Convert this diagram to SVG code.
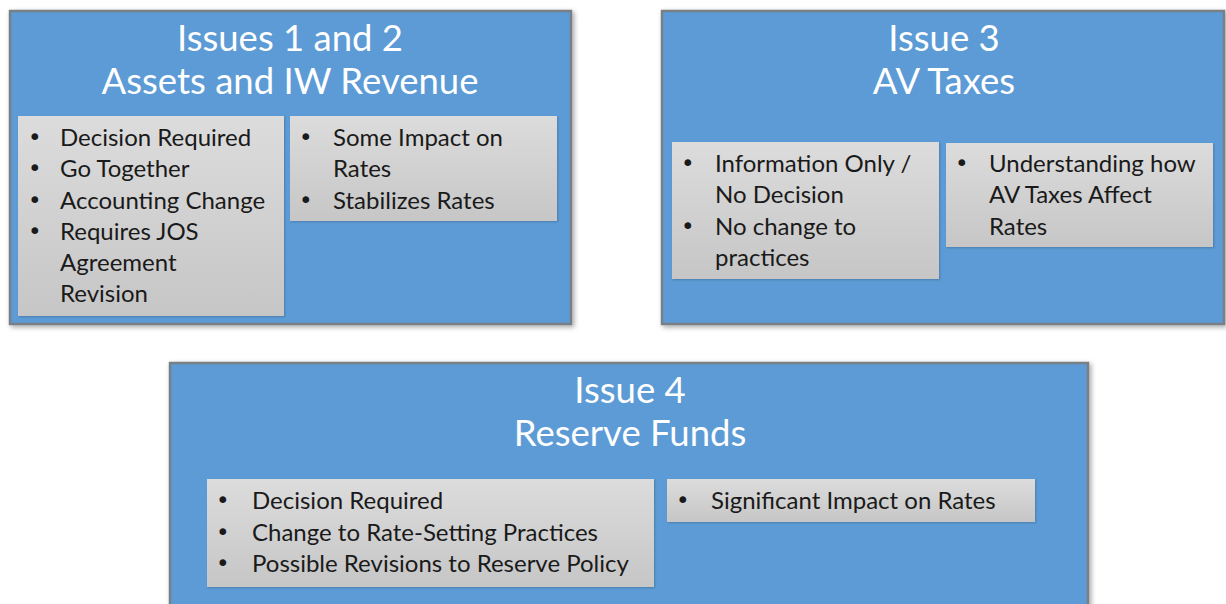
<svg xmlns="http://www.w3.org/2000/svg" width="1226" height="604" viewBox="0 0 1226 604">
<style>
.outer{fill:#5b9bd5;stroke:#7a7f86;stroke-width:2.5}
.inner{fill:url(#g)}
.title{font-family:Lato,"Open Sans",sans-serif;font-size:36.5px;fill:#ffffff;text-anchor:middle}
.b{font-family:Lato,"Open Sans",sans-serif;font-size:24px;fill:#1a1a1a}
.d{font-family:"DejaVu Sans",sans-serif;font-size:23px;fill:#1a1a1a}
</style>
<defs>
<linearGradient id="g" x1="0" y1="0" x2="0" y2="1">
<stop offset="0" stop-color="#dcdcdc"/>
<stop offset="1" stop-color="#c6c6c6"/>
</linearGradient>
<filter id="sh" x="-5%" y="-5%" width="110%" height="110%">
<feDropShadow dx="2" dy="2" stdDeviation="2.5" flood-color="#000" flood-opacity="0.35"/>
</filter>
<filter id="sh2" x="-5%" y="-5%" width="110%" height="110%">
<feDropShadow dx="1" dy="1" stdDeviation="1" flood-color="#000" flood-opacity="0.2"/>
</filter>
</defs>
<g id="issue12">
<rect class="outer" x="10" y="11" width="561" height="313" filter="url(#sh)"/>
<text class="title" x="290" y="51">Issues 1 and 2</text>
<text class="title" x="290" y="94">Assets and IW Revenue</text>
<rect class="inner" x="18" y="116" width="266" height="200" filter="url(#sh2)"/>
<g class="d">
<text x="28" y="145">•</text><text x="28" y="176">•</text><text x="28" y="208">•</text><text x="28" y="239">•</text>
</g>
<g class="b">
<text x="60" y="146">Decision Required</text>
<text x="60" y="177">Go Together</text>
<text x="60" y="209">Accounting Change</text>
<text x="60" y="240">Requires JOS</text>
<text x="60" y="271">Agreement</text>
<text x="60" y="302">Revision</text>
</g>
<rect class="inner" x="290" y="116" width="267" height="105" filter="url(#sh2)"/>
<g class="d">
<text x="299" y="145">•</text><text x="299" y="208">•</text>
</g>
<g class="b">
<text x="333" y="146">Some Impact on</text>
<text x="333" y="177">Rates</text>
<text x="333" y="209">Stabilizes Rates</text>
</g>
</g>
<g id="issue3">
<rect class="outer" x="662" y="11" width="562" height="313" filter="url(#sh)"/>
<text class="title" x="944" y="51">Issue 3</text>
<text class="title" x="944" y="94">AV Taxes</text>
<rect class="inner" x="672" y="142" width="267" height="137" filter="url(#sh2)"/>
<g class="d">
<text x="681" y="171">•</text><text x="681" y="234">•</text>
</g>
<g class="b">
<text x="715" y="172">Information Only /</text>
<text x="715" y="203">No Decision</text>
<text x="715" y="235">No change to</text>
<text x="715" y="266">practices</text>
</g>
<rect class="inner" x="946" y="143" width="267" height="104" filter="url(#sh2)"/>
<g class="d">
<text x="955" y="171">•</text>
</g>
<g class="b">
<text x="989" y="172">Understanding how</text>
<text x="989" y="203">AV Taxes Affect</text>
<text x="989" y="235">Rates</text>
</g>
</g>
<g id="issue4">
<rect class="outer" x="170" y="363" width="918" height="260" filter="url(#sh)"/>
<text class="title" x="630" y="403">Issue 4</text>
<text class="title" x="630" y="446">Reserve Funds</text>
<rect class="inner" x="207" y="479" width="447" height="108" filter="url(#sh2)"/>
<g class="d">
<text x="216" y="508">•</text><text x="216" y="540">•</text><text x="216" y="571">•</text>
</g>
<g class="b">
<text x="252" y="509">Decision Required</text>
<text x="252" y="541">Change to Rate-Setting Practices</text>
<text x="252" y="572">Possible Revisions to Reserve Policy</text>
</g>
<rect class="inner" x="667" y="479" width="368" height="43" filter="url(#sh2)"/>
<g class="d">
<text x="676" y="508">•</text>
</g>
<g class="b">
<text x="711" y="509">Significant Impact on Rates</text>
</g>
</g>
<g id="connectors"/>
</svg>
